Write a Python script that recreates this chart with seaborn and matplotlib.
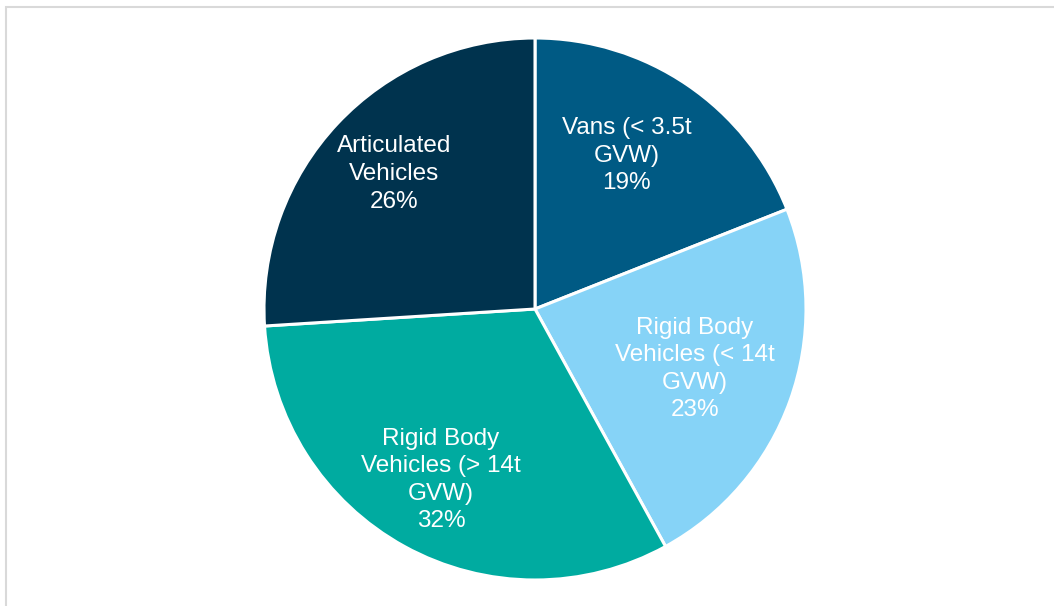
import numpy as np
import matplotlib.pyplot as plt
import matplotlib.patches as mpatches
import seaborn as sns

sns.set_theme(style="white")
plt.rcParams["font.family"] = ["Liberation Sans", "DejaVu Sans"]

categories = [
    "Vans (< 3.5t\nGVW)",
    "Rigid Body\nVehicles (< 14t\nGVW)",
    "Rigid Body\nVehicles (> 14t\nGVW)",
    "Articulated\nVehicles",
]
shares = [19, 23, 32, 26]
colors = ["#005A84", "#86D3F7", "#00ABA0", "#00334E"]

# label placement (fraction of radius, angle nudge in degrees)
label_r = [0.66, 0.63, 0.72, 0.72]
label_nudge = [3.3, -0.8, 0, -0.6]

fig = plt.figure(figsize=(10.54, 6.06), dpi=100)
fig.patch.set_facecolor("white")

# light grey chart frame (top and left edges visible)
fig.patches.append(mpatches.Rectangle(
    (6 / 1054, -0.05), 1.1, 1 - 7.5 / 606 + 0.05,
    transform=fig.transFigure, fill=False, edgecolor="#D9D9D9",
    linewidth=1.5, zorder=0))

ax = fig.add_axes([264 / 1054, 26 / 606, 542 / 1054, 542 / 606])
wedges, _ = ax.pie(
    shares, colors=sns.color_palette(colors), startangle=90,
    counterclock=False, radius=1,
    wedgeprops=dict(edgecolor="white", linewidth=2.2),
)

for w, cat, val, r, dn in zip(wedges, categories, shares, label_r, label_nudge):
    mid = np.deg2rad((w.theta1 + w.theta2) / 2 + dn)
    ax.text(r * np.cos(mid), r * np.sin(mid), f"{cat}\n{val}%",
            ha="center", va="center", color="white", fontsize=17.5,
            linespacing=1.33)

ax.set_xlim(-1, 1)
ax.set_ylim(-1, 1)
ax.set_aspect("equal")
ax.axis("off")

plt.savefig("out.png", dpi=100)
